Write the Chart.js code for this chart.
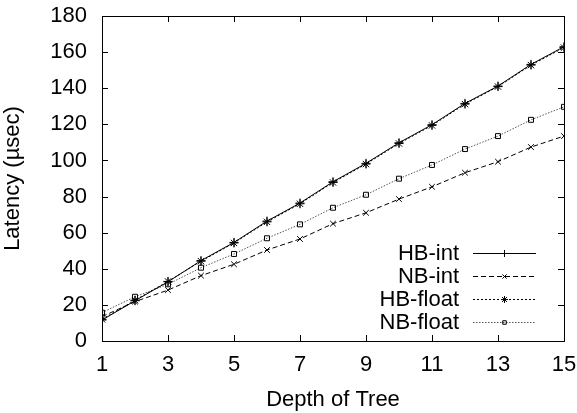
<!DOCTYPE html>
<html>
<head>
<meta charset="utf-8">
<script src="https://cdn.jsdelivr.net/npm/chart.js@4/dist/chart.umd.min.js"></script>
<style>
  html, body { margin: 0; padding: 0; background: #fff; }
  #wrap { width: 577px; height: 413px; }
</style>
</head>
<body>
<div id="wrap"><canvas id="c" width="577" height="413"></canvas></div>
<script>
// Tree depth on the x axis
const depth = [1, 2, 3, 4, 5, 6, 7, 8, 9, 10, 11, 12, 13, 14, 15];

// Latency in microseconds for each variant
const hbInt   = [11.6, 22.3, 32.8, 44.5, 54.6, 66.4, 76.4, 88.2, 98.4, 109.8, 119.8, 131.6, 141.2, 153.2, 163.0];
const nbInt   = [13.5, 21.8, 28.2, 36.2, 42.5, 50.4, 56.5, 65.0, 71.0, 78.6, 85.4, 93.2, 99.3, 107.4, 113.5];
const hbFloat = [12.0, 22.6, 33.0, 44.2, 54.3, 66.0, 76.0, 87.8, 98.0, 109.4, 119.4, 131.2, 140.9, 152.8, 162.5];
const nbFloat = [15.7, 24.5, 31.4, 40.6, 48.2, 56.9, 64.6, 73.8, 81.0, 89.9, 97.5, 106.3, 113.5, 122.5, 129.7];

const seriesNames = ['HB-int', 'NB-int', 'HB-float', 'NB-float'];
const xTicks = [1, 3, 5, 7, 9, 11, 13, 15];
const yTicks = [0, 20, 40, 60, 80, 100, 120, 140, 160, 180];

const FONT = 'Liberation Sans, Arial, Helvetica, sans-serif';
const FS = 22;

function pts(ys) { return depth.map((x, i) => ({ x: x, y: ys[i] })); }

const styles = [
  { color: '#000', dash: [],         point: 'cross',    radius: 4.5 },
  { color: '#000', dash: [5, 3],     point: 'crossRot', radius: 4   },
  { color: '#000', dash: [2, 2],     point: 'star',     radius: 4.5 },
  { color: '#555', dash: [1.5, 1.5], point: 'rect',     radius: 3.5 }
];

const data = [hbInt, nbInt, hbFloat, nbFloat];

const datasets = data.map((ys, i) => ({
  label: seriesNames[i],
  data: pts(ys),
  borderColor: styles[i].color,
  borderWidth: 1,
  borderDash: styles[i].dash,
  pointStyle: styles[i].point,
  pointRadius: styles[i].radius,
  pointBorderColor: '#000',
  pointBackgroundColor: 'rgba(0,0,0,0)',
  pointBorderWidth: 1,
  tension: 0,
  fill: false
}));

// Frame around the plot with inward ticks on all four sides, plus the key
const framePlugin = {
  id: 'frame',
  afterDatasetsDraw(chart) {
    const ctx = chart.ctx;
    const a = chart.chartArea;
    const xs = chart.scales.x, ys = chart.scales.y;
    ctx.save();
    ctx.strokeStyle = '#000';
    ctx.lineWidth = 1;
    ctx.setLineDash([]);
    ctx.strokeRect(Math.round(a.left) + 0.5, Math.round(a.top) + 0.5,
                   Math.round(a.right - a.left), Math.round(a.bottom - a.top));
    const T = 6;
    ctx.beginPath();
    xTicks.forEach(v => {
      const px = Math.round(xs.getPixelForValue(v)) + 0.5;
      ctx.moveTo(px, a.bottom); ctx.lineTo(px, a.bottom - T);
      ctx.moveTo(px, a.top); ctx.lineTo(px, a.top + T);
    });
    yTicks.forEach(v => {
      const py = Math.round(ys.getPixelForValue(v)) + 0.5;
      ctx.moveTo(a.left, py); ctx.lineTo(a.left + T, py);
      ctx.moveTo(a.right, py); ctx.lineTo(a.right - T, py);
    });
    ctx.stroke();

    // key, text right-aligned with a line sample to its right
    const textRight = 459, lineL = 473, lineR = 536;
    const rows = [253, 276, 299, 322];
    ctx.textAlign = 'right';
    ctx.textBaseline = 'middle';
    seriesNames.forEach((name, i) => {
      const y = rows[i];
      ctx.font = FS + 'px ' + FONT;
      ctx.fillStyle = '#000';
      ctx.fillText(name, textRight, y + 1);
      ctx.strokeStyle = styles[i].color;
      ctx.setLineDash(styles[i].dash);
      ctx.beginPath();
      ctx.moveTo(lineL, y + 0.5); ctx.lineTo(lineR, y + 0.5);
      ctx.stroke();
      ctx.setLineDash([]);
      ctx.strokeStyle = '#000';
      ctx.fillStyle = 'rgba(0,0,0,0)';
      Chart.helpers.drawPoint(ctx, {
        pointStyle: styles[i].point,
        radius: styles[i].radius - 1,
        borderWidth: 1
      }, (lineL + lineR) / 2, y + 0.5);
    });
    ctx.restore();
  }
};

new Chart(document.getElementById('c'), {
  type: 'line',
  data: { datasets },
  options: {
    responsive: false,
    animation: false,
    devicePixelRatio: 1,
    layout: { padding: { top: 16, right: 13, left: 0, bottom: 0 } },
    plugins: { legend: { display: false }, tooltip: { enabled: false } },
    scales: {
      x: {
        type: 'linear',
        min: 1, max: 15,
        afterBuildTicks(s) { s.ticks = xTicks.map(v => ({ value: v })); },
        afterFit(s) { s.height = 72; s.paddingLeft = 0; s.paddingRight = 0; },
        grid: { display: false, drawTicks: false },
        border: { display: false },
        ticks: { color: '#000', font: { family: FONT, size: FS }, padding: 11, maxRotation: 0, autoSkip: false },
        title: { display: true, text: 'Depth of Tree', color: '#000',
                 font: { family: FONT, size: FS }, padding: { top: 5, bottom: 0 } }
      },
      y: {
        type: 'linear',
        min: 0, max: 180,
        afterBuildTicks(s) { s.ticks = yTicks.map(v => ({ value: v })); },
        afterFit(s) { s.width = 102; s.paddingTop = 0; s.paddingBottom = 0; },
        grid: { display: false, drawTicks: false },
        border: { display: false },
        ticks: { color: '#000', font: { family: FONT, size: FS }, padding: 15 },
        title: { display: true, text: 'Latency (µsec)', color: '#000',
                 font: { family: FONT, size: FS }, padding: { top: 0, bottom: 0 } }
      }
    }
  },
  plugins: [framePlugin]
});
</script>
</body>
</html>
